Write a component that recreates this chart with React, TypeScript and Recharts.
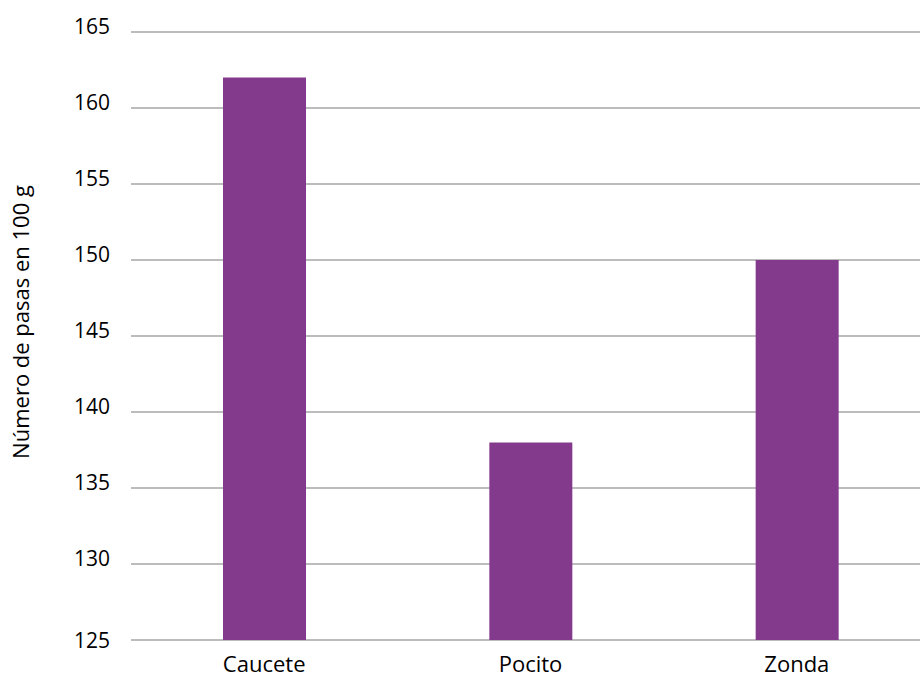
import { BarChart, Bar, XAxis, YAxis, CartesianGrid } from 'recharts'

const categories = ['Caucete', 'Pocito', 'Zonda']
const pasas = [162, 138, 150]
const yTicks = [125, 130, 135, 140, 145, 150, 155, 160, 165]

const data = categories.map((name, i) => ({ name, pasas: pasas[i] }))

const FONT = '"Open Sans", sans-serif'

function YTick(props: any) {
  const { x, y, payload } = props
  // Excel-style: labels sit a bit above their gridline, except the baseline
  const shift = payload.value === 125 ? 0 : -6
  return (
    <text x={x} y={y + shift} textAnchor="end" dominantBaseline="central"
      fill="#000" fontSize={21} fontFamily={FONT}>
      {payload.value}
    </text>
  )
}

export default function App() {
  return (
    <div style={{ position: 'absolute', left: 0, top: 0, width: 920, height: 679, overflow: 'hidden', background: '#fff' }}>
      <BarChart width={930} height={679} data={data} barSize={83}
        margin={{ top: 32, right: 0, left: 0, bottom: 0 }}>
        <CartesianGrid vertical={false} stroke="#a6a6a6" strokeWidth={1.5} />
        <XAxis dataKey="name" height={39} axisLine={false} tickLine={false} tickSize={0} tickMargin={16}
          tick={{ fill: '#000', fontSize: 22, fontFamily: FONT }} />
        <YAxis width={131} domain={[125, 165]} ticks={yTicks} allowDataOverflow axisLine={false}
          tickLine={false} tickSize={0} tickMargin={21} tick={<YTick />}
          label={{
            content: () => (
              <text x={20} y={322} transform="rotate(-90 20 322)" textAnchor="middle"
                dominantBaseline="central" fill="#000" fontSize={22} fontFamily={FONT}>
                Número de pasas en 100 g
              </text>
            ),
          }} />
        <Bar dataKey="pasas" fill="#843a8c" isAnimationActive={false} />
      </BarChart>
    </div>
  )
}
